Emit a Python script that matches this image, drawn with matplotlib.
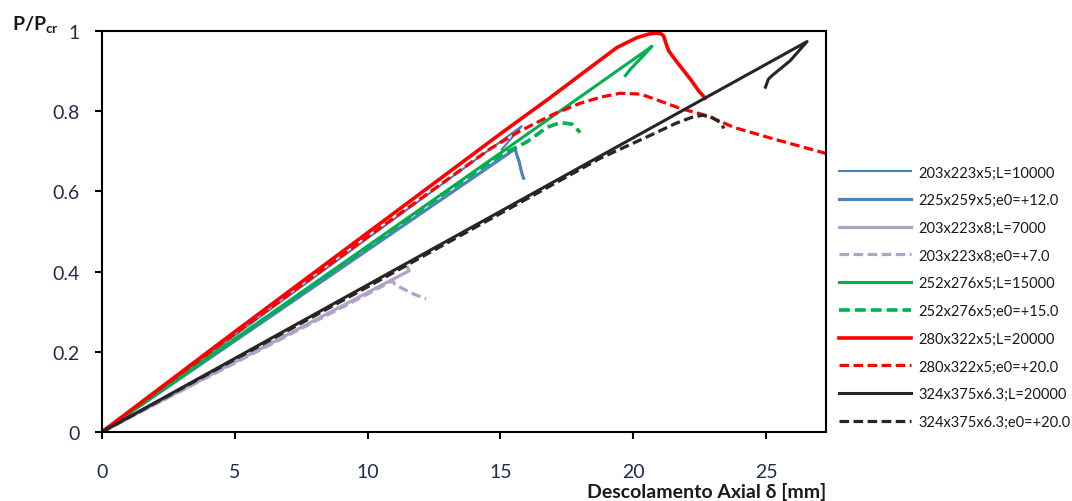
import matplotlib.pyplot as plt

# curve data: axial displacement [mm] and P/Pcr
x_203_L10000 = [0, 5, 10, 15.8, 15.05]
y_203_L10000 = [0, 0.241, 0.483, 0.763, 0.705]

x_225_e12 = [0, 5, 10, 15.55, 15.62, 15.7, 15.75, 15.78, 15.82, 15.87]
y_225_e12 = [0, 0.227, 0.454, 0.706, 0.69, 0.675, 0.66, 0.652, 0.642, 0.633]

x_203x8_L7000 = [0, 5, 10, 11.56, 11.5]
y_203x8_L7000 = [0, 0.174, 0.348, 0.402, 0.41]

x_203x8_e7 = [0, 5, 10, 10.95, 11.0, 11.1, 11.7, 12.2]
y_203x8_e7 = [0, 0.172, 0.344, 0.378, 0.37, 0.365, 0.345, 0.332]

x_252_L15000 = [0, 5, 10, 15, 20.7, 20.38, 19.89, 19.7]
y_252_L15000 = [0, 0.232, 0.464, 0.696, 0.962, 0.939, 0.905, 0.889]

x_252_e15 = [0, 5, 10, 13, 15, 16.0, 16.75, 17.25, 17.69, 18.0]
y_252_e15 = [0, 0.231, 0.462, 0.6, 0.69, 0.724, 0.76, 0.772, 0.768, 0.747]

x_280_L20000 = [0, 5, 10, 15, 16.87, 18.13, 19.38, 20.14, 20.6, 20.89, 21.05,
                21.14, 21.25, 21.33, 21.65, 22.15, 22.46, 22.7]
y_280_L20000 = [0, 0.25, 0.497, 0.744, 0.834, 0.897, 0.959, 0.984, 0.993, 0.995, 0.993,
                0.988, 0.965, 0.951, 0.922, 0.88, 0.851, 0.833]

x_280_e20 = [0, 5, 10, 14.6, 15.74, 17.0, 18.0, 18.76, 19.5, 20.26, 20.83, 21.77, 22.78, 23.78, 25.28, 27.25]
y_280_e20 = [0, 0.245, 0.487, 0.706, 0.751, 0.793, 0.82, 0.835, 0.845, 0.843, 0.83, 0.807, 0.789, 0.76, 0.731, 0.695]

x_324_L20000 = [0, 10, 20, 26.54, 25.9, 25.22, 25.08, 25.0, 24.97]
y_324_L20000 = [0, 0.367, 0.734, 0.974, 0.926, 0.889, 0.88, 0.865, 0.86]

x_324_e20 = [0, 10, 18.76, 20.64, 21.6, 22.2, 22.6, 22.95, 23.2, 23.35, 23.4]
y_324_e20 = [0, 0.362, 0.683, 0.74, 0.77, 0.785, 0.79, 0.785, 0.775, 0.765, 0.757]

x_ticks = [0, 5, 10, 15, 20, 25]
y_ticks = [0, 0.2, 0.4, 0.6, 0.8, 1]
y_tick_labels = ["0", "0.2", "0.4", "0.6", "0.8", "1"]

TEXT_COLOR = "#1a1a1a"
TICK_COLOR = "#1f2d4d"
DASH = (0, (3, 1.4))

plt.rcParams["font.family"] = ["Lato", "DejaVu Sans"]
plt.rcParams["mathtext.fontset"] = "custom"
plt.rcParams["mathtext.rm"] = "Lato"
plt.rcParams["mathtext.bf"] = "Lato:bold"

fig = plt.figure(figsize=(10.72, 5.02), dpi=100)
ax = fig.add_axes([0.0951, 0.1375, 0.6754, 0.7985])

# order matches the legend
curves = [
    (x_203_L10000, y_203_L10000, "#4a7ebb", 1.5, "-", "203x223x5;L=10000"),
    (x_225_e12, y_225_e12, "#4f81bd", 2.3, "-", "225x259x5;e0=+12.0"),
    (x_203x8_L7000, y_203x8_L7000, "#b3a2c7", 2.3, "-", "203x223x8;L=7000"),
    (x_203x8_e7, y_203x8_e7, "#b3a2c7", 2.3, DASH, "203x223x8;e0=+7.0"),
    (x_252_L15000, y_252_L15000, "#00b050", 2.2, "-", "252x276x5;L=15000"),
    (x_252_e15, y_252_e15, "#00b050", 2.6, DASH, "252x276x5;e0=+15.0"),
    (x_280_L20000, y_280_L20000, "#ff0000", 2.6, "-", "280x322x5;L=20000"),
    (x_280_e20, y_280_e20, "#ff0000", 2.3, DASH, "280x322x5;e0=+20.0"),
    (x_324_L20000, y_324_L20000, "#262626", 2.2, "-", "324x375x6.3;L=20000"),
    (x_324_e20, y_324_e20, "#262626", 2.3, DASH, "324x375x6.3;e0=+20.0"),
]

for xs, ys, color, lw, ls, label in curves:
    ax.plot(xs, ys, color=color, lw=lw, linestyle=ls, label=label,
            solid_joinstyle="round", dash_capstyle="butt")

ax.set_xlim(0, 27.25)
ax.set_ylim(0, 1)
ax.set_xticks(x_ticks)
ax.set_yticks(y_ticks)
ax.set_yticklabels(y_tick_labels)

for side in ["left", "right", "top", "bottom"]:
    ax.spines[side].set_linewidth(1.5)
    ax.spines[side].set_color("black")

ax.tick_params(direction="out", length=5, width=1.5, labelsize=14,
               labelcolor=TICK_COLOR)
ax.tick_params(axis="x", pad=17)
ax.tick_params(axis="y", pad=11)

fig.text(0.011, 0.952, r"$\mathbf{P/P_{cr}}$", fontsize=14, color=TEXT_COLOR,
         ha="left", va="center")
fig.text(0.7705, 0.008, "Descolamento Axial δ [mm]", fontsize=14,
         fontweight="bold", color=TEXT_COLOR, ha="right", va="baseline")

ax.legend(loc="upper left", bbox_to_anchor=(0.7775, 0.68),
          bbox_transform=fig.transFigure, frameon=False, fontsize=10.5,
          handlelength=4.9, handletextpad=0.5, labelspacing=0.94,
          borderaxespad=0, labelcolor=TEXT_COLOR)

fig.savefig("out.png", dpi=100)
